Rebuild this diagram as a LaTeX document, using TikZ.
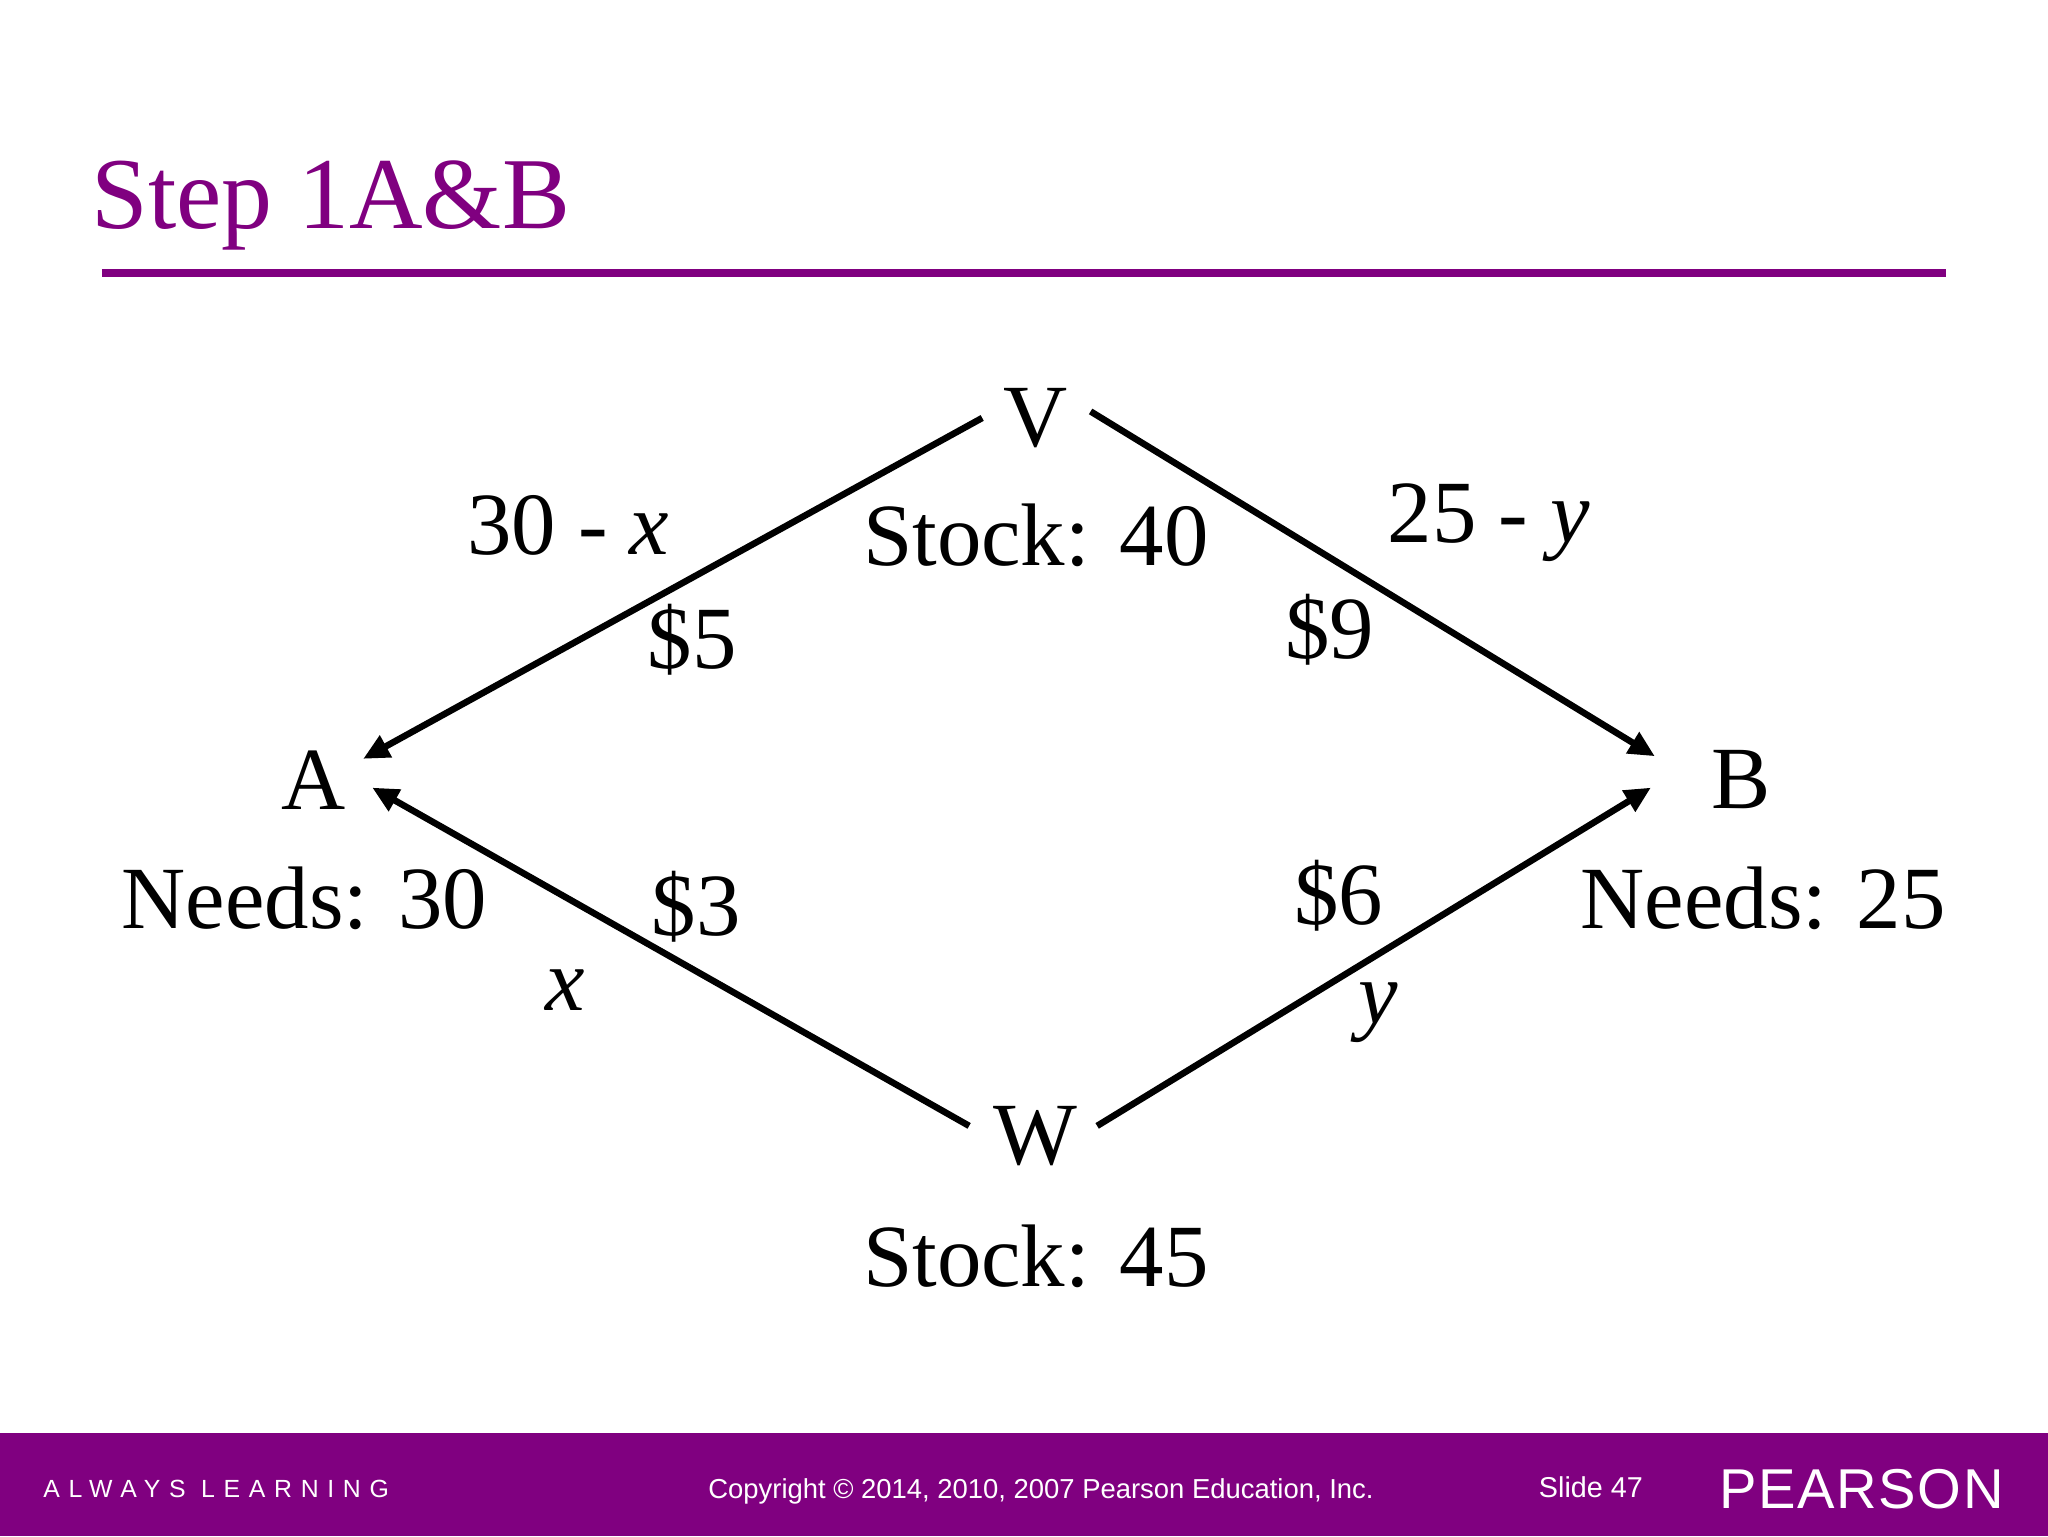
\documentclass[tikz,border=0pt]{standalone}
\usepackage{fontspec}
\setmainfont{Liberation Serif}
\newfontfamily\arialf{Liberation Sans}
\usetikzlibrary{arrows.meta}
\definecolor{pp}{RGB}{128,0,128}
\begin{document}
\begin{tikzpicture}[x=1pt,y=-1pt,
  big/.style={font=\fontsize{68}{76}\selectfont,inner sep=0pt},
  edge/.style={line width=5pt,-{Triangle[length=20pt,width=18pt]}}]
\useasboundingbox (0,0) rectangle (1568,1176);
\fill[white] (0,0) rectangle (1568,1176);
\node[anchor=base west,text=pp,font=\fontsize{78}{86}\selectfont,inner sep=0pt] (title) at (70,175) {Step 1A\&B};
\draw[pp,line width=6pt] (78,209) -- (1490,209);
\node[big] (V) at (793,320) {V};
\node[big] (A) at (240,597) {A};
\node[big] (B) at (1333,597) {B};
\node[big] (W) at (793,870) {W};
\coordinate (vs1) at (752,320); \coordinate (ae1) at (278,581);
\coordinate (vs2) at (835,315); \coordinate (be1) at (1267,579);
\coordinate (ws1) at (742,862); \coordinate (ae2) at (285,603);
\coordinate (ws2) at (840,862); \coordinate (be2) at (1264,603);
\draw[edge] (vs1) -- (ae1);
\draw[edge] (vs2) -- (be1);
\draw[edge] (ws1) -- (ae2);
\draw[edge] (ws2) -- (be2);
\node[big] (l1) at (435,402) {30 - \textit{x}};
\node[big] (l2) at (530,490) {\$5};
\node[big] (l3) at (793,410) {Stock: 40};
\node[big] (l4) at (1140,400) {25 - \textit{y}};
\node[big] (l5) at (1018,482) {\$9};
\node[big] (l6) at (233,688) {Needs: 30};
\node[big] (l7) at (533,694) {\$3};
\node[big] (l8) at (433,758) {\textit{x}};
\node[big] (l9) at (1025,686) {\$6};
\node[big] (l10) at (1055,775) {\textit{y}};
\node[big] (l11) at (1350,688) {Needs: 25};
\node[big] (l12) at (793,962) {Stock: 45};
\fill[pp] (0,1097) rectangle (1568,1176);
\node[anchor=west,text=white,inner sep=0pt,font=\arialf\fontsize{19}{22}\selectfont\addfontfeature{LetterSpace=35}] (al) at (33,1140) {ALWAYS LEARNING};
\node[text=white,inner sep=0pt,font=\arialf\fontsize{21}{24}\selectfont] (cp) at (797,1142) {Copyright © 2014, 2010, 2007 Pearson Education, Inc.};
\node[text=white,inner sep=0pt,font=\arialf\fontsize{22}{24}\selectfont] (sl) at (1218,1139) {Slide 47};
\node[anchor=west,text=white,inner sep=0pt,font=\arialf\fontsize{43}{48}\selectfont\addfontfeature{LetterSpace=3}] (ps) at (1316,1140) {PEARSON};
\end{tikzpicture}
\end{document}
